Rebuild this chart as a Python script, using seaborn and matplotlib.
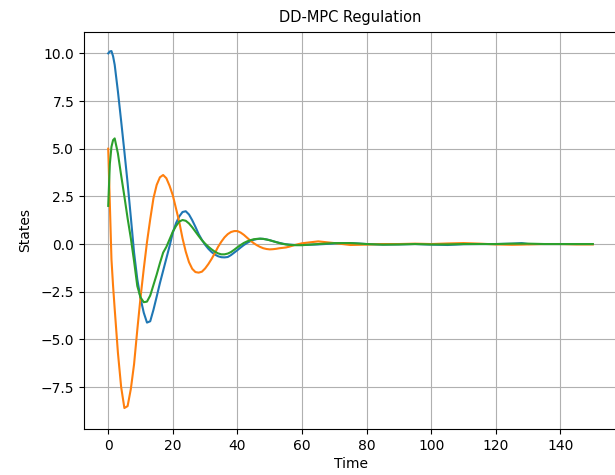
import matplotlib
matplotlib.use("Agg")
import matplotlib.pyplot as plt
import pandas as pd
import seaborn as sns

# Sample times of the closed-loop simulation
time = [0, 0.5, 1, 1.5, 2, 3, 4, 5, 6, 7, 8, 9, 10, 11, 12, 13, 14, 15, 16, 17, 18, 19,
        20, 21, 22, 23, 24, 25, 26, 27, 28, 29, 30, 31, 32, 33, 34, 35, 36, 37, 38, 39,
        40, 41, 42, 43, 44, 45, 46, 47, 48, 49, 50, 51, 52, 53, 54, 55, 56, 57, 58, 59,
        60, 65, 70, 75, 80, 85, 90, 95, 100, 105, 110, 115, 120, 125, 128, 130, 135, 140, 145, 150]

# State trajectories
state_1 = [10.0, 10.1, 10.12, 9.85, 9.4, 8.0, 6.45, 4.85, 3.2, 1.4, -0.45, -1.85,
           -2.85, -3.6, -4.12, -4.05, -3.45, -2.76, -2.05, -1.4, -0.75, -0.1,
           0.6, 1.1, 1.45, 1.68, 1.72, 1.55, 1.25, 0.9, 0.52, 0.22,
           -0.04, -0.25, -0.42, -0.55, -0.64, -0.69, -0.7, -0.68, -0.58, -0.45,
           -0.32, -0.18, -0.05, 0.06, 0.15, 0.22, 0.26, 0.28, 0.27, 0.24,
           0.2, 0.15, 0.1, 0.06, 0.02, -0.01, -0.03, -0.04, -0.05, -0.05,
           -0.05, -0.02, 0.03, 0.05, 0.0, -0.03, -0.02, 0.0, -0.03, -0.05,
           -0.01, 0.0, 0.0, 0.02, 0.05, 0.0, 0.0, 0.0, 0.0, 0.0]

state_2 = [5.0, 2.1, -0.8, -2.2, -3.4, -5.7, -7.5, -8.6, -8.5, -7.6, -6.3, -4.5,
           -2.8, -1.3, 0.1, 1.3, 2.4, 3.1, 3.5, 3.62, 3.45, 3.05,
           2.55, 1.85, 1.15, 0.3, -0.4, -0.95, -1.3, -1.47, -1.5, -1.45,
           -1.28, -1.05, -0.78, -0.48, -0.15, 0.12, 0.35, 0.52, 0.63, 0.68,
           0.68, 0.6, 0.48, 0.33, 0.18, 0.05, -0.06, -0.15, -0.22, -0.26,
           -0.28, -0.27, -0.25, -0.22, -0.2, -0.18, -0.14, -0.09, -0.04, 0.0,
           0.04, 0.14, 0.05, -0.05, -0.03, 0.0, 0.0, 0.02, 0.0, 0.03,
           0.05, 0.02, -0.02, -0.04, -0.03, -0.02, 0.0, 0.0, -0.02, -0.02]

state_3 = [2.0, 4.2, 5.1, 5.45, 5.54, 4.75, 3.6, 2.5, 1.35, 0.3, -0.9, -2.2,
           -2.8, -3.05, -3.02, -2.7, -2.15, -1.6, -1.0, -0.45, -0.15, 0.25,
           0.65, 0.95, 1.18, 1.26, 1.22, 1.08, 0.88, 0.65, 0.42, 0.2,
           0.02, -0.14, -0.28, -0.4, -0.49, -0.54, -0.54, -0.5, -0.42, -0.3,
           -0.17, -0.05, 0.06, 0.14, 0.2, 0.25, 0.27, 0.28, 0.27, 0.24,
           0.2, 0.15, 0.1, 0.05, 0.01, -0.02, -0.04, -0.05, -0.06, -0.06,
           -0.06, 0.0, 0.05, 0.05, 0.0, -0.03, -0.02, 0.0, -0.02, -0.02,
           0.0, 0.0, 0.0, 0.02, 0.02, 0.02, 0.0, 0.0, 0.0, 0.0]

series_names = ["x1", "x2", "x3"]
series_colors = ["#1f77b4", "#ff7f0e", "#2ca02c"]

frames = []
for name, values in zip(series_names, [state_1, state_2, state_3]):
    frames.append(pd.DataFrame({"Time": time, "State": values, "series": name}))
df = pd.concat(frames, ignore_index=True)

fig = plt.figure(figsize=(6.15, 4.75), dpi=100)
ax = fig.add_axes([84 / 615, 46 / 475, 533 / 615, 397 / 475])

sns.lineplot(data=df, x="Time", y="State", hue="series",
             palette=series_colors, linewidth=1.5, legend=False,
             estimator=None, sort=False, ax=ax)

ax.set_xlim(-7.5, 157.5)
ax.set_ylim(-9.70, 11.12)
ax.set_xticks([0, 20, 40, 60, 80, 100, 120, 140])
ax.set_yticks([-7.5, -5.0, -2.5, 0.0, 2.5, 5.0, 7.5, 10.0])
ax.grid(True, color="#b0b0b0", linewidth=0.8)
ax.tick_params(labelsize=10, length=3.5, width=0.8)
for sp in ax.spines.values():
    sp.set_linewidth(0.8)

ax.set_title("DD-MPC Regulation", fontsize=10.5, pad=7)
ax.set_xlabel("Time", fontsize=10, labelpad=3)
ax.set_ylabel("States", fontsize=10, labelpad=6)

fig.savefig("out.png", dpi=100)
